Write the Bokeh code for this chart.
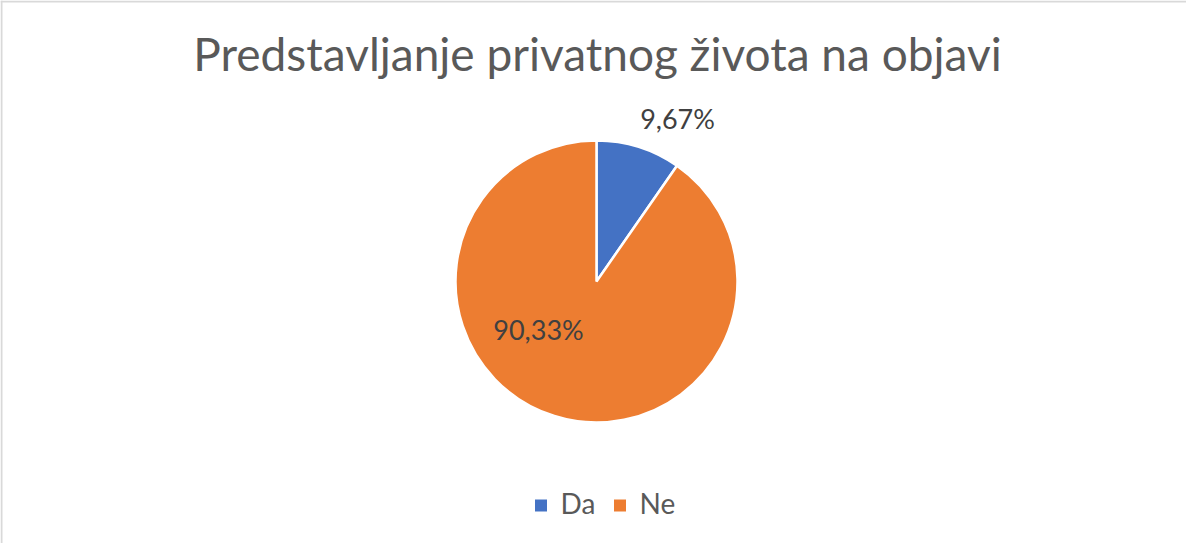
import math
from bokeh.plotting import figure
from bokeh.models import Range1d, ColumnDataSource, Label, Span
from bokeh.core.properties import value
from bokeh.embed import file_html
from bokeh.resources import INLINE

# ---- data ----
title_text = "Predstavljanje privatnog života na objavi"
categories = ["Da", "Ne"]
percent = [9.67, 90.33]
colors = ["#4472C4", "#ED7D31"]

# ---- layout (pixels, y up) ----
W, H = 1186, 543
CX, CY, R = 596, 262, 141
FONT = "Lato"
label_offsets = [(81, 163), (-58, -48)]

p = figure(width=W, height=H, output_backend="svg", toolbar_location=None,
           x_range=Range1d(0, W), y_range=Range1d(0, H), min_border=0,
           tools="")
p.axis.visible = False
p.grid.visible = False
p.outline_line_color = None
p.background_fill_color = "white"
p.border_fill_color = "white"
p.add_layout(Span(location=1, dimension="height", line_color="#d9d9d9", line_width=2))
p.add_layout(Span(location=H - 1, dimension="width", line_color="#d9d9d9", line_width=2))

total = sum(percent)
starts, ends = [], []
a = math.pi / 2
for v in percent:
    starts.append(a)
    a = a - 2 * math.pi * v / total
    ends.append(a)

src = ColumnDataSource(dict(cat=categories, start=starts, end=ends, color=colors))
p.wedge(x=CX, y=CY, radius=R, start_angle="start", end_angle="end",
        direction="clock", fill_color="color", line_color="white", line_width=2.5,
        source=src)

lbl = ColumnDataSource(dict(
    x=[CX + dx for dx, dy in label_offsets],
    y=[CY + dy for dx, dy in label_offsets],
    t=[("%.2f%%" % v).replace(".", ",") for v in percent]))
p.text(x="x", y="y", text="t", source=lbl, text_font=value(FONT),
       text_font_size="27px", text_color="#404040", text_align="center",
       text_baseline="alphabetic")

p.add_layout(Label(x=597, y=490, text=title_text, text_font=FONT,
                   text_font_size="46px", text_color="#595959",
                   text_align="center", text_baseline="alphabetic"))

# legend
leg_sq_x = [540.5, 619.5]
leg_src = ColumnDataSource(dict(x=leg_sq_x, y=[38, 38], c=colors,
                                tx=[x + 19.5 for x in leg_sq_x], ty=[41, 41],
                                t=categories))
p.rect(x="x", y="y", width=12, height=12, fill_color="c", line_color=None,
       source=leg_src)
p.text(x="tx", y="ty", text="t", source=leg_src, text_font=value(FONT),
       text_font_size="28px", text_color="#595959", text_align="left",
       text_baseline="alphabetic")

open("out.html", "w").write(file_html(p, INLINE))
